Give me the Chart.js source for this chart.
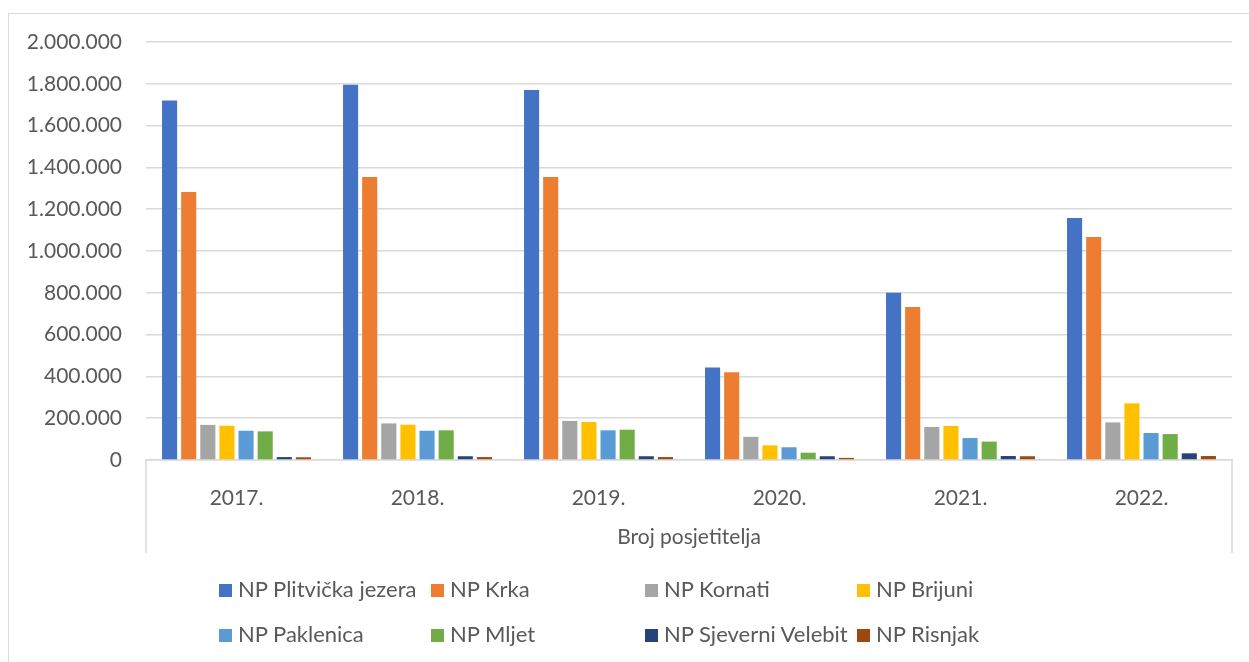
<!DOCTYPE html>
<html>
<head>
<meta charset="utf-8">
<script src="https://cdn.jsdelivr.net/npm/chart.js@4/dist/chart.umd.min.js"></script>
<style>
  body { margin: 0; background: #fff; }
  #wrap { position: relative; width: 1249px; height: 662px; overflow: hidden; }
  #frame { position: absolute; left: 8px; top: 13px; width: 1260px; height: 700px; border: 1px solid #d9d9d9; }
  #myChart { position: absolute; left: 0; top: 0; }
  .legend { position: absolute; left: 0; top: 0; font-family: Lato, sans-serif; font-size: 22px; color: #595959; }
  .legend .item { position: absolute; white-space: nowrap; line-height: 26px; }
  .legend .box { display: inline-block; width: 13px; height: 13px; margin-right: 6px; vertical-align: 0px; }
</style>
</head>
<body>
<div id="wrap">
  <div id="frame"></div>
  <canvas id="myChart" width="1249" height="662"></canvas>
  <div class="legend" id="legend"></div>
</div>
<script>
// chart data
var years = ['2017.', '2018.', '2019.', '2020.', '2021.', '2022.'];
var plitvice = [1720000, 1795000, 1770000, 443000, 800000, 1158000];
var krka = [1282000, 1354000, 1354000, 420000, 732000, 1067000];
var kornati = [168000, 175000, 187000, 111000, 158000, 180000];
var brijuni = [164000, 169000, 182000, 70000, 163000, 271000];
var paklenica = [140000, 140000, 142000, 61000, 105000, 129000];
var mljet = [137000, 142000, 145000, 35000, 88000, 124000];
var sjVelebit = [14000, 18000, 18000, 18000, 19000, 32000];
var risnjak = [13000, 14000, 14000, 10000, 18000, 19000];

var seriesNames = ['NP Plitvička jezera', 'NP Krka', 'NP Kornati', 'NP Brijuni',
                   'NP Paklenica', 'NP Mljet', 'NP Sjeverni Velebit', 'NP Risnjak'];
var seriesData = [plitvice, krka, kornati, brijuni, paklenica, mljet, sjVelebit, risnjak];
var colors = ['#4472C4', '#ED7D31', '#A5A5A5', '#FFC000', '#5B9BD5', '#70AD47', '#264478', '#9E480E'];

var textColor = '#595959';
var gridColor = '#d9d9d9';
var font = { family: 'Lato, sans-serif', size: 21 };

function fmt(v){
    return String(v).replace(/\B(?=(\d{3})+(?!\d))/g, '.');
}

var datasets = [];
for (var i = 0; i < seriesNames.length; i++) {
    datasets.push({
        label: seriesNames[i],
        data: seriesData[i],
        backgroundColor: colors[i],
        borderWidth: 0,
        categoryPercentage: 0.845,
        barPercentage: 0.79
    });
}

// vertical lines at both ends of the category axis box
const axisBox = {
    id: 'axisBox',
    afterDraw(chart) {
        const ctx = chart.ctx;
        const x = chart.scales.x;
        ctx.save();
        ctx.strokeStyle = gridColor;
        ctx.lineWidth = 1.5;
        ctx.beginPath();
        ctx.moveTo(x.left, x.top);
        ctx.lineTo(x.left, x.bottom);
        ctx.moveTo(x.right, x.top);
        ctx.lineTo(x.right, x.bottom);
        ctx.stroke();
        ctx.restore();
    }
};

const ctx = document.getElementById('myChart').getContext('2d');
const myChart = new Chart(ctx, {
    type: 'bar',
    data: { labels: years, datasets: datasets },
    options: {
        responsive: false,
        animation: false,
        layout: { padding: { left: 0, right: 17, top: 42, bottom: 109 } },
        plugins: {
            legend: { display: false },
            tooltip: { enabled: false }
        },
        scales: {
            x: {
                grid: { display: false },
                border: { display: true, color: gridColor, width: 1.5 },
                ticks: { color: textColor, font: font, padding: 18 },
                title: {
                    display: true,
                    text: 'Broj posjetitelja',
                    color: textColor,
                    font: font,
                    padding: { top: 0, bottom: 3 }
                },
                afterFit: function(scale) { scale.height = 93; }
            },
            y: {
                min: 0,
                max: 2000000,
                ticks: {
                    stepSize: 200000,
                    color: textColor,
                    font: font,
                    padding: 24,
                    callback: function(v) { return fmt(v); }
                },
                grid: { color: gridColor, lineWidth: 1.5, drawTicks: false },
                border: { display: false },
                afterFit: function(scale) { scale.width = 146; }
            }
        }
    },
    plugins: [axisBox]
});

// legend in two rows of four columns
var legendX = [219, 431, 645, 857];
var legendY = [589, 634];
var legend = document.getElementById('legend');
for (var j = 0; j < seriesNames.length; j++) {
    var item = document.createElement('div');
    item.className = 'item';
    item.style.left = legendX[j % 4] + 'px';
    item.style.top = (legendY[Math.floor(j / 4)] - 13) + 'px';
    item.innerHTML = '<span class="box" style="background:' + colors[j] + '"></span>' + seriesNames[j];
    legend.appendChild(item);
}
</script>
</body>
</html>
